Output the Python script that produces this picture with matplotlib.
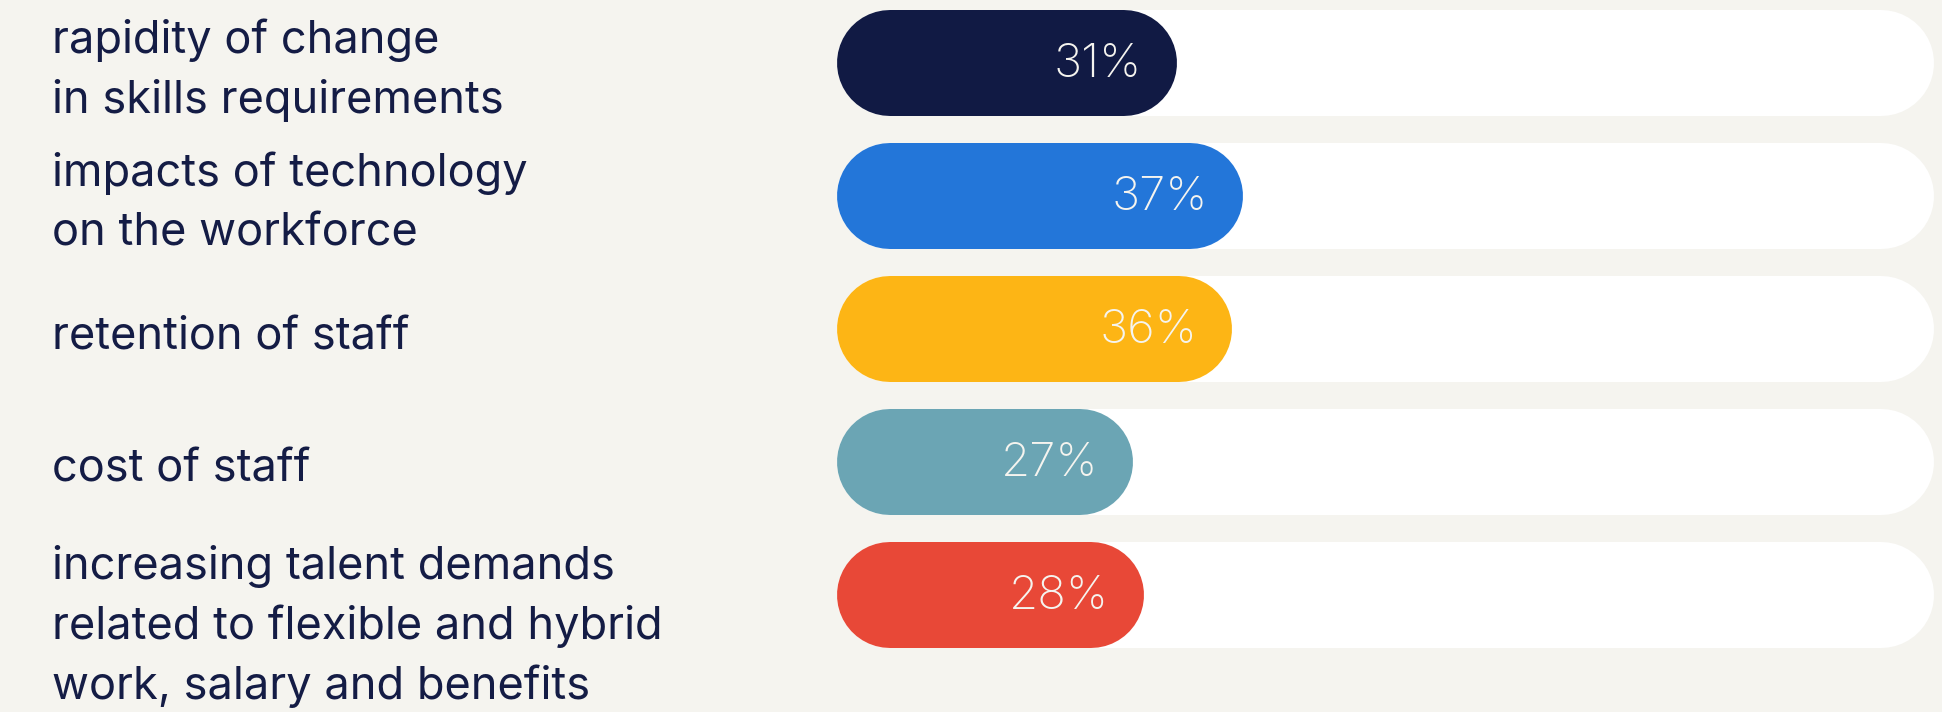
import matplotlib
matplotlib.use("Agg")
import matplotlib.pyplot as plt

# ---- data ----
categories = [
    "rapidity of change\nin skills requirements",
    "impacts of technology\non the workforce",
    "retention of staff",
    "cost of staff",
    "increasing talent demands\nrelated to flexible and hybrid\nwork, salary and benefits",
]
values = [31, 37, 36, 27, 28]
value_labels = ["31%", "37%", "36%", "27%", "28%"]
bar_colors = ["#111A44", "#2376D9", "#FDB515", "#6BA5B4", "#E84837"]

bg = "#F5F4EF"
text_color = "#141C45"
label_font = "Inter"
value_font = "Inter"

W, H, DPI = 1942, 712, 100
fig = plt.figure(figsize=(W / DPI, H / DPI), dpi=DPI, facecolor=bg)

ax_left, ax_right = 837 / W, 1934 / W
ax = fig.add_axes([ax_left, 0, ax_right - ax_left, 1])
ax.set_facecolor("none")
ax.set_xlim(0, 100)
row_px = 133.0
first_center = 63.0
ax.set_ylim((H - first_center) / row_px, -first_center / row_px)
ax.axis("off")

bar_h_px = 106.0
lw_pt = bar_h_px * 72 / DPI
px_per_unit = ax.bbox.width / 100.0
r_units = (bar_h_px / 2) / px_per_unit

for i, (cat, val, lab, col) in enumerate(zip(categories, values, value_labels, bar_colors)):
    ax.plot([r_units, 100 - r_units], [i, i], color="white", lw=lw_pt,
            solid_capstyle="round", zorder=1)
    ax.plot([r_units, val - r_units], [i, i], color=col, lw=lw_pt,
            solid_capstyle="round", zorder=2)
    ax.annotate(lab, xy=(val, i), xytext=(-35, -2), textcoords="offset pixels",
                ha="right", va="center", color=bg, fontsize=34,
                family=value_font, fontweight="light", zorder=3)
    lines = cat.split("\n")
    n = len(lines)
    first_base = max(20 - 30 * (n - 1), -16)
    for k, line in enumerate(lines):
        dy = first_base + 60 * k
        ax.annotate(line, xy=(52 / W, i), xycoords=("figure fraction", "data"),
                    xytext=(0, -dy), textcoords="offset pixels",
                    ha="left", va="baseline", color=text_color, fontsize=32.5,
                    family=label_font, annotation_clip=False)

fig.savefig("out.png", dpi=DPI, facecolor=bg)
